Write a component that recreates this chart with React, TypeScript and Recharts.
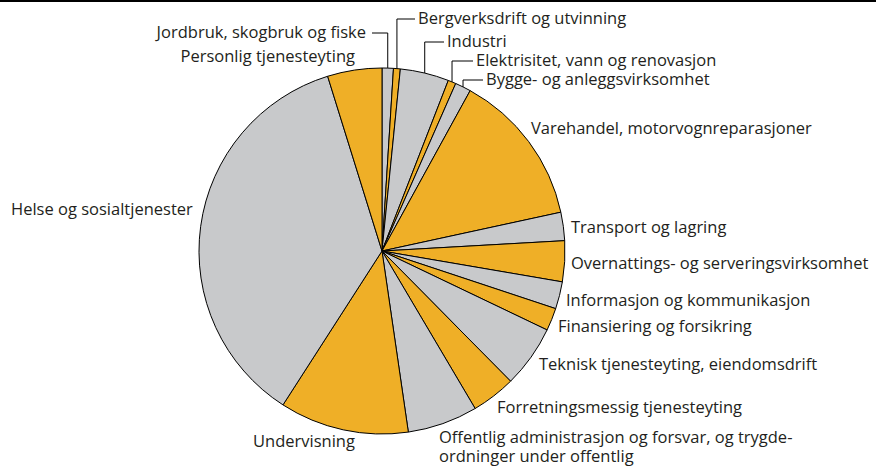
import { Cell, Pie, PieChart } from "recharts";

const industries = [
  "Jordbruk, skogbruk og fiske",
  "Bergverksdrift og utvinning",
  "Industri",
  "Elektrisitet, vann og renovasjon",
  "Bygge- og anleggsvirksomhet",
  "Varehandel, motorvognreparasjoner",
  "Transport og lagring",
  "Overnattings- og serveringsvirksomhet",
  "Informasjon og kommunikasjon",
  "Finansiering og forsikring",
  "Teknisk tjenesteyting, eiendomsdrift",
  "Forretningsmessig tjenesteyting",
  "Offentlig administrasjon og forsvar, og trygde-|ordninger under offentlig",
  "Undervisning",
  "Helse og sosialtjenester",
  "Personlig tjenesteyting",
];

// share of total, percent
const shares = [1.0, 0.6, 4.3, 0.7, 1.4, 13.6, 2.5, 3.6, 2.4, 2.0, 5.5, 3.9, 6.2, 11.4, 36.1, 4.8];

const GRAY = "#c8c9cb";
const ORANGE = "#efaf27";
const TEXT = "#231f20";

// where each label text sits; elbow = y of the leader line's horizontal part
type LabelPos = { x: number; y: number; anchor: "start" | "end"; elbow?: number };
const labelPos: LabelPos[] = [
  { x: 366, y: 38, anchor: "end", elbow: 33 },
  { x: 418, y: 24, anchor: "start", elbow: 19 },
  { x: 447, y: 47, anchor: "start", elbow: 42 },
  { x: 476, y: 66, anchor: "start", elbow: 61 },
  { x: 486, y: 85, anchor: "start", elbow: 80 },
  { x: 531, y: 134, anchor: "start" },
  { x: 571, y: 233, anchor: "start" },
  { x: 571, y: 269, anchor: "start" },
  { x: 566, y: 306, anchor: "start" },
  { x: 558, y: 332, anchor: "start" },
  { x: 539, y: 370, anchor: "start" },
  { x: 497, y: 413, anchor: "start" },
  { x: 439, y: 443, anchor: "start" },
  { x: 253, y: 447, anchor: "start" },
  { x: 11, y: 215, anchor: "start" },
  { x: 355, y: 62, anchor: "end" },
];

const data = industries.map((name, i) => ({ name, value: shares[i] }));

const RAD = Math.PI / 180;

function renderLabel(props: any) {
  const { cx, cy, midAngle, outerRadius, index } = props;
  const pos = labelPos[index];
  const lines = industries[index].split("|");
  let leader = null;
  if (pos.elbow !== undefined) {
    const px = cx + outerRadius * Math.cos(-midAngle * RAD);
    const py = cy - Math.sqrt(outerRadius * outerRadius - (px - cx) * (px - cx));
    const endX = pos.anchor === "end" ? pos.x + 6 : pos.x - 3;
    leader = (
      <polyline
        points={`${px},${py} ${px},${pos.elbow} ${endX},${pos.elbow}`}
        fill="none"
        stroke="#000"
        strokeWidth={1}
      />
    );
  }
  return (
    <g key={`lbl-${index}`}>
      {leader}
      <text
        x={pos.x}
        y={pos.y}
        textAnchor={pos.anchor}
        fill={TEXT}
        fontSize={16.5}
        fontFamily="'Open Sans', sans-serif"
      >
        {lines.map((ln, j) => (
          <tspan key={j} x={pos.x} dy={j === 0 ? 0 : 19}>
            {ln}
          </tspan>
        ))}
      </text>
    </g>
  );
}

export default function App() {
  return (
    <div style={{ position: "absolute", left: 0, top: 0, width: 876, height: 466, background: "#fff" }}>
      <div style={{ position: "absolute", left: 0, top: 0, width: 876, height: 2, background: "#000" }} />
      <PieChart width={876} height={466} margin={{ top: 0, right: 0, bottom: 0, left: 0 }}>
        <Pie
          data={data}
          dataKey="value"
          nameKey="name"
          cx={382}
          cy={251}
          outerRadius={183}
          startAngle={90}
          endAngle={-270}
          stroke="#000"
          strokeWidth={1}
          label={renderLabel}
          labelLine={false}
          isAnimationActive={false}
        >
          {data.map((d, i) => (
            <Cell key={d.name} fill={i % 2 === 0 ? GRAY : ORANGE} />
          ))}
        </Pie>
      </PieChart>
    </div>
  );
}
